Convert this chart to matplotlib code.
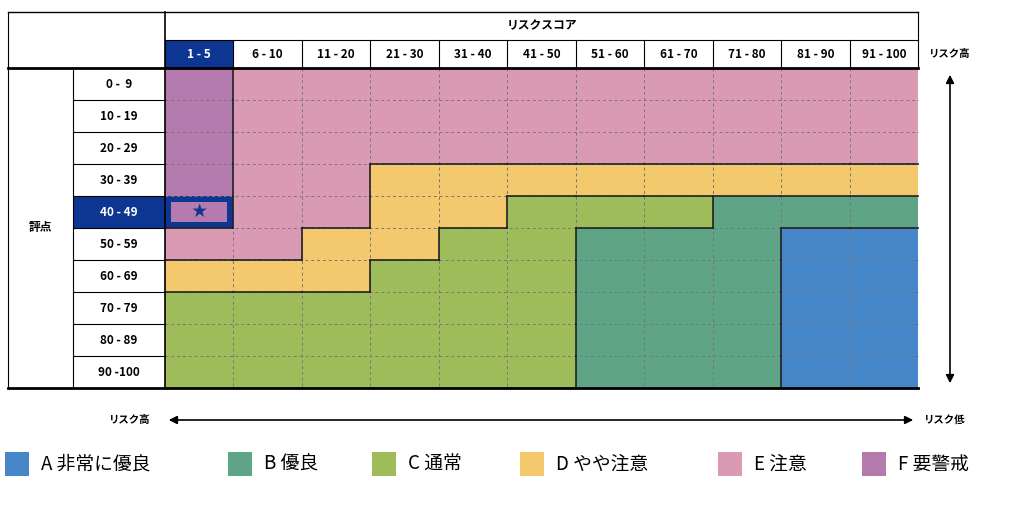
import matplotlib
matplotlib.use("Agg")
import matplotlib.pyplot as plt
from matplotlib.patches import Rectangle

plt.rcParams["font.family"] = "Noto Sans CJK JP"

col_labels = ["1 - 5", "6 - 10", "11 - 20", "21 - 30", "31 - 40", "41 - 50",
              "51 - 60", "61 - 70", "71 - 80", "81 - 90", "91 - 100"]
row_labels = ["0 -  9", "10 - 19", "20 - 29", "30 - 39", "40 - 49",
              "50 - 59", "60 - 69", "70 - 79", "80 - 89", "90 -100"]
grid = [
    "FEEEEEEEEEE",
    "FEEEEEEEEEE",
    "FEEEEEEEEEE",
    "FEEDDDDDDDD",
    "FEEDDCCCBBB",
    "EEDDCCBBBAA",
    "DDDCCCBBBAA",
    "CCCCCCBBBAA",
    "CCCCCCBBBAA",
    "CCCCCCBBBAA",
]
legend_keys = ["A", "B", "C", "D", "E", "F"]
legend_names = ["A 非常に優良", "B 優良", "C 通常", "D やや注意", "E 注意", "F 要警戒"]
colors = {"A": "#4587c8", "B": "#5fa487", "C": "#9fbc5a", "D": "#f4c86c",
          "E": "#da9ab4", "F": "#b57aae"}
hl_col, hl_row = 0, 4
navy = "#0d3592"

fig = plt.figure(figsize=(10.24, 5.24), dpi=100)
ax = fig.add_axes([0, 0, 1, 1])
ax.set_xlim(0, 1024); ax.set_ylim(524, 0); ax.axis("off")

x0, x1, y0, y1 = 165, 918, 68, 388
nc, nr = len(col_labels), len(row_labels)
cw, rh = (x1 - x0) / nc, (y1 - y0) / nr
fs = 8.5

# cells
for r in range(nr):
    for c in range(nc):
        ax.add_patch(Rectangle((x0 + c*cw, y0 + r*rh), cw, rh, color=colors[grid[r][c]], lw=0))
# dashed inner grid
for c in range(1, nc):
    ax.plot([x0 + c*cw]*2, [y0, y1], color="#777777", lw=0.7, ls=(0, (3, 3)))
for r in range(1, nr):
    ax.plot([x0, x1], [y0 + r*rh]*2, color="#777777", lw=0.7, ls=(0, (3, 3)))
# category boundaries
for r in range(nr):
    for c in range(nc):
        if c + 1 < nc and grid[r][c] != grid[r][c+1]:
            ax.plot([x0 + (c+1)*cw]*2, [y0 + r*rh, y0 + (r+1)*rh], color="#222222", lw=1.2)
        if r + 1 < nr and grid[r][c] != grid[r+1][c]:
            ax.plot([x0 + c*cw, x0 + (c+1)*cw], [y0 + (r+1)*rh]*2, color="#222222", lw=1.2)
# highlighted cell
ax.add_patch(Rectangle((x0, y0 + hl_row*rh), cw, rh, color=navy, lw=0))
ax.add_patch(Rectangle((x0 + 6, y0 + hl_row*rh + 6), cw - 12, rh - 12, color=colors[grid[hl_row][hl_col]], lw=0))
ax.text(x0 + cw/2, y0 + (hl_row + 0.5)*rh, "★", color=navy, ha="center", va="center", fontsize=11)

# header
hy0, hy1 = 12, 40
ax.text((x0 + x1)/2, (hy0 + hy1)/2, "リスクスコア", ha="center", va="center", fontsize=fs, weight="bold")
for c, lab in enumerate(col_labels):
    cx = x0 + c*cw
    if c == hl_col:
        ax.add_patch(Rectangle((cx, hy1), cw, y0 - hy1, color=navy, lw=0))
    ax.text(cx + cw/2, (hy1 + y0)/2, lab, ha="center", va="center", fontsize=fs, weight="bold",
            color="white" if c == hl_col else "black")
    ax.plot([cx]*2, [hy1, y0], color="black", lw=0.8)
ax.plot([x0, x1], [hy1]*2, color="black", lw=0.8)
ax.plot([8, x1], [hy0]*2, color="black", lw=1)
ax.plot([x1]*2, [hy0, y0], color="black", lw=0.8)
ax.plot([8, x1], [y0]*2, color="black", lw=2)
ax.plot([x0]*2, [hy0, y1], color="black", lw=1.2)

# left labels
lx0, lx1 = 8, 73
ax.text((lx0 + lx1)/2, (y0 + y1)/2, "評点", ha="center", va="center", fontsize=fs, weight="bold")
for r, lab in enumerate(row_labels):
    ry = y0 + r*rh
    if r == hl_row:
        ax.add_patch(Rectangle((lx1, ry), x0 - lx1, rh, color=navy, lw=0))
    ax.text((lx1 + x0)/2, ry + rh/2, lab, ha="center", va="center", fontsize=fs, weight="bold",
            color="white" if r == hl_row else "black")
    if r > 0:
        ax.plot([lx1, x0], [ry]*2, color="black", lw=0.8)
ax.plot([lx1]*2, [y0, y1], color="black", lw=0.8)
ax.plot([lx0]*2, [hy0, y1], color="black", lw=0.8)
ax.plot([lx0, x1], [y1]*2, color="black", lw=2)

# arrows
ax.annotate("", xy=(950, 386), xytext=(950, 72),
            arrowprops=dict(arrowstyle="<|-|>", color="black", lw=1.2, mutation_scale=12))
ax.text(950, 54, "リスク高", ha="center", va="center", fontsize=7.5, weight="bold")
ax.annotate("", xy=(916, 420), xytext=(166, 420),
            arrowprops=dict(arrowstyle="<|-|>", color="black", lw=1.2, mutation_scale=12))
ax.text(130, 420, "リスク高", ha="center", va="center", fontsize=7.5, weight="bold")
ax.text(945, 420, "リスク低", ha="center", va="center", fontsize=7.5, weight="bold")

# legend
lxs = [5, 228, 372, 520, 718, 862]
for k, name, lx in zip(legend_keys, legend_names, lxs):
    ax.add_patch(Rectangle((lx, 452), 24, 24, color=colors[k], lw=0))
    ax.text(lx + 36, 464, name, ha="left", va="center", fontsize=13.5)

fig.savefig("out.png", dpi=100)
